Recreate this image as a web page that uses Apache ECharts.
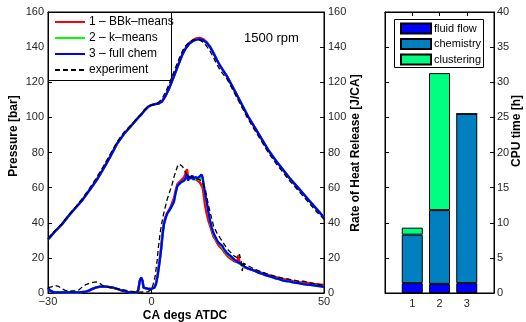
<!DOCTYPE html>
<html>
<head>
<meta charset="utf-8">
<script src="https://cdn.jsdelivr.net/npm/echarts@6/dist/echarts.min.js"></script>
<style>html,body{margin:0;padding:0;background:#fff;}#c{width:526px;height:322px;}</style>
</head>
<body>
<div id="c"></div>
<script>
// ---------------- data ----------------
var seriesNames = ['1 \u2013 BBk\u2013means', '2 \u2013 k\u2013means', '3 \u2013 full chem', 'experiment'];
var xTickValues = [-30, 0, 50];

var pressureCA = [-30,-28,-26,-24,-22,-20,-18,-16,-14,-12,-10,-8,-6,-4,-3,-2,-1,0,1,2,3,4,5,6,7,8,9,10,11,12,13,14,15,16,17,18,19,20,22,24,26,28,30,32,34,36,38,40,42,44,46,48,50];
var pressureBBk  = [30.5,35,39,44,48.5,53,58.5,64,70.5,77.5,85,90.5,95,99.5,101.5,104,106,107,107.5,107.8,109,112,116,121,126,131,136,139.8,142.5,144,145,145.3,144.6,142.8,140.2,136.6,132.5,129,123,115.5,108,100.5,94,87.5,81,75.5,70.5,65.5,61,56.5,52,47.5,43];
var pressureKm   = [30.5,35,39,44,48.5,53,58.5,64,70.5,77.5,85,90.5,95,99.5,101.5,104,106,107,107.5,107.8,109,112,116,121,126,131,136,139.5,142,143.5,144.3,144.5,144,142.5,140,136.5,132.5,129,123,115.5,108,100.5,94,87.5,81,75.5,70.5,65.5,61,56.5,52,47.5,43];
var pressureFull = [30.5,35,39,44,48.5,53,58.5,64,70.5,77.5,85,90.5,95,99.5,101.5,104,106,107,107.5,107.8,109,112,116,121,126,131,136,139.5,142,143.5,144.3,144.5,144,142.5,140,136.5,132.5,129,123,115.5,108,100.5,94,87.5,81,75.5,70.5,65.5,61,56.5,52,47.5,43];
var pressureExp  = [31,35.5,39.5,44.5,49,54,59.5,65.5,72,79,86,91.5,95.5,100,102,104.3,106,107,107.5,108.5,110.5,114,118.5,123.5,128.5,133.5,138,141,143,144,144.3,144,142.8,140.5,137.5,134,130,126.5,121.5,114,106.5,99,92.5,86,79.5,74,69,64,59.5,55,50.5,46,42];

// rate of heat release [CA, J/CA]
var rohrBBk = [[-30,3],[-29.5,1.5],[-28.5,0.5],[-25,0.3],[-21,0.4],[-19,0.8],[-18,1.5],[-17,2.4],[-16,3.1],[-15,3.5],[-14,3.6],[-13,3.5],[-12,3.3],[-11,2.9],[-10,2.3],[-9,1.6],[-8,1.0],[-7,0.6],[-6,0.4],[-5,0.3],[-4.2,0.4],[-3.8,2],[-3.4,7],[-3.0,8.6],[-2.6,7],[-2.3,3],[-2,2.4],[-1,2.3],[0,2.4],[0.8,3],[1.3,5.5],[1.8,11],[2.3,18],[2.8,26],[3.2,34],[3.6,40],[4,43],[4.5,45.5],[5,47],[5.5,49],[6,50],[6.5,54],[7,58.5],[7.5,62],[8,63],[8.5,64],[9,64.5],[9.5,66],[10,69],[10.3,70.5],[10.6,66],[11,67],[11.4,65.5],[11.8,66.5],[12.2,65.5],[12.6,65],[13,64.5],[13.5,64],[14,63],[14.5,62.5],[14.8,60],[15.1,56],[15.5,50],[16,45],[16.5,41],[17,38],[17.5,35],[18,32],[18.5,30.5],[19,28.5],[19.5,27],[20,26],[20.5,25],[21,23.5],[22,21],[23,19.5],[24,18],[24.8,17.5],[25.2,21.5],[25.5,17.5],[26,16],[27,14.5],[28,13.8],[29,13.3],[30,12.8],[31,12],[32,11.5],[33,10.8],[34,10.2],[35,9.8],[36,9],[37,8.6],[38,8],[39,7.6],[40,7.4],[41,6.8],[42,6.6],[43,6.2],[44,6],[45,5.8],[46,5.6],[47,5.2],[48,5],[49,4.8],[50,4.6]];
var rohrKm = [[-30,3],[-29.5,1.5],[-28.5,0.5],[-25,0.3],[-21,0.4],[-19,0.8],[-18,1.5],[-17,2.5],[-16,3.2],[-15,3.6],[-14,3.7],[-13,3.6],[-12,3.3],[-11,3],[-10,2.4],[-9,1.7],[-8,1.1],[-7,0.7],[-6,0.4],[-5,0.3],[-4.2,0.4],[-3.8,2],[-3.4,7],[-3.0,8.7],[-2.6,7],[-2.3,3],[-2,2.4],[-1,2.3],[0,2.4],[0.8,3],[1.3,5],[1.8,10],[2.3,17],[2.8,25],[3.2,33],[3.6,39],[4,42],[4.5,45],[5,46],[5.5,48],[6,49],[6.5,52],[7,57],[7.5,61],[8,62],[8.5,63],[9,63.5],[9.5,64],[10,66],[10.3,67],[10.6,64.5],[11,66],[11.4,65],[11.8,66.5],[12.2,64.5],[12.6,65.5],[13,65],[13.5,65],[14,64.5],[14.5,67],[14.8,65.5],[15.1,61.5],[15.5,56.5],[16,51.5],[16.5,45.5],[17,40.5],[17.5,36.5],[18,33.5],[18.5,32.5],[19,29.5],[19.5,28.5],[20,27.5],[20.5,26.5],[21,24.5],[22,22],[23,20.5],[24,18.8],[25,17.3],[26,16.3],[27,14.8],[28,14],[29,13.3],[30,12.5],[31,11.5],[32,11],[33,10.2],[34,9.6],[35,9],[36,8.3],[37,7.9],[38,7.2],[39,6.8],[40,6.6],[41,6],[42,5.8],[43,5.5],[44,5.1],[45,4.8],[46,4.6],[47,4.3],[48,4],[49,3.8],[50,3.5]];
var rohrFull = [[-30,3],[-29.5,1.5],[-28.5,0.5],[-27,0.3],[-25,0.3],[-23,0.3],[-21,0.4],[-19,0.8],[-18,1.5],[-17,2.5],[-16,3.2],[-15,3.6],[-14,3.7],[-13,3.6],[-12,3.3],[-11,3],[-10,2.4],[-9,1.7],[-8,1.1],[-7,0.7],[-6,0.4],[-5,0.3],[-4.2,0.4],[-3.8,2],[-3.4,7],[-3.0,8.8],[-2.6,7],[-2.3,3],[-2,2.4],[-1,2.3],[0,2.4],[0.8,3],[1.3,5],[1.8,10],[2.3,17],[2.8,25],[3.2,33],[3.6,39],[4.0,42],[4.5,45],[5,46],[5.5,48],[6,49],[6.5,52],[7,57],[7.5,61],[8,62],[8.5,63],[9,63.5],[9.5,64],[10,66],[10.3,67.5],[10.6,64],[11,66.5],[11.4,65],[11.8,67],[12.2,64.5],[12.6,66],[13,65],[13.5,65.5],[14,64.5],[14.5,67.5],[14.8,66],[15.1,62],[15.5,57],[16,52],[16.5,46],[17,41],[17.5,37],[18,34],[18.5,33],[19,30],[19.5,28.5],[20,28],[20.5,27],[21,25],[22,22.5],[23,21],[24,19],[25,17.5],[26,16.5],[26.5,17],[27,15],[28,14],[29,13.3],[30,12.5],[31,11.5],[32,11],[33,10.2],[34,9.6],[35,9],[36,8.3],[37,7.9],[38,7.2],[39,6.8],[40,6.6],[41,6],[42,5.8],[43,5.5],[44,5.1],[45,4.8],[46,4.6],[47,4.3],[48,4],[49,3.8],[50,3.5]];
var rohrExp = [[-30,3],[-29,3.5],[-28,4.3],[-27.5,4.5],[-27,3.8],[-26,2.5],[-25,1.5],[-24,1.2],[-22,1.2],[-21,1.8],[-20,3.5],[-19,4.8],[-18,5.5],[-17,6],[-16,6.3],[-15,5.5],[-14,4],[-13,3.5],[-12,3],[-10,2.5],[-8,1.8],[-6,1],[-4,0.5],[-2,0.6],[-1,0.8],[0,2],[0.5,5],[1,9],[1.5,16],[2,26],[2.5,34],[3,40],[3.5,45],[4,49],[4.5,53],[5,56],[5.5,59],[6,62],[6.5,66],[7,69],[7.5,72],[8,73.5],[8.5,73.8],[9,72],[9.5,70],[10,68],[10.5,66],[11,67],[12,66],[13,65],[14,64.5],[15,62],[15.5,60],[16,55],[16.5,50],[17,46],[17.5,42],[18,38],[19,34],[20,31],[21,28],[22,25],[23,23],[24,21],[25,20],[25.5,22],[26,18],[26.3,12.5],[26.6,17],[27,17],[28,15.5],[29,14.5],[30,13.5],[32,12],[34,10.5],[36,9.5],[38,8.5],[40,7.8],[42,7],[43,6.5],[44,6.8],[46,5.8],[48,5],[50,4.3]];

// CPU time [h] bar chart
var runLabels = ['1', '2', '3'];
var runTickValues = [1, 2, 3];
var cpuFluid = [1.4, 1.3, 1.4];
var cpuChem = [6.9, 10.5, 24.1];
var cpuClust = [1.0, 19.5, 0];
var cpuNames = ['fluid flow', 'chemistry', 'clustering'];

// ---------------- chart ----------------
var FONT = 'Liberation Sans, Arial, Helvetica, sans-serif';
var TXT = '#262626';
var chart = echarts.init(document.getElementById('c'), null, {renderer: 'canvas'});

function pairs(xs, ys) { return xs.map(function (x, i) { return [x, ys[i]]; }); }

var axLine = {show: true, onZero: false, lineStyle: {color: '#000', width: 1}};
var tickIn = {show: true, inside: true, length: 4, lineStyle: {color: '#000', width: 1}};
var lab = {color: TXT, fontFamily: FONT, fontSize: 11};

var lineColors = ['#ff0000', '#00ff00', '#0000ff', '#000000'];
var pressureSets = [pressureBBk, pressureKm, pressureFull, pressureExp];
var rohrSets = [rohrBBk, rohrKm, rohrFull, rohrExp];

var series = [];
for (var i = 0; i < 4; i++) {
  var isExp = i === 3;
  var ls = {color: lineColors[i], width: isExp ? 1.3 : 2.3, type: isExp ? [5, 3] : 'solid'};
  series.push({
    name: seriesNames[i], type: 'line', xAxisIndex: 0, yAxisIndex: 0,
    data: pairs(pressureCA, pressureSets[i]), showSymbol: false, symbol: 'none',
    lineStyle: ls, itemStyle: {color: lineColors[i]}, z: 2 + i, silent: true
  });
  series.push({
    name: seriesNames[i], type: 'line', xAxisIndex: 0, yAxisIndex: 1,
    data: rohrSets[i], showSymbol: false, symbol: 'none',
    lineStyle: ls, itemStyle: {color: lineColors[i]}, z: 2 + i, silent: true
  });
}
var barColors = ['#0000ff', '#0080c0', '#00ff80'];
var barSets = [cpuFluid, cpuChem, cpuClust];
for (var j = 0; j < 3; j++) {
  series.push({
    name: cpuNames[j], type: 'bar', xAxisIndex: 4, yAxisIndex: 4, stack: 'cpu',
    barWidth: 21, data: barSets[j],
    itemStyle: {color: barColors[j], borderColor: '#000', borderWidth: 1}, silent: true
  });
}

var option = {
  animation: false,
  backgroundColor: '#fff',
  grid: [
    {left: 48, top: 12, width: 276, height: 281, show: true, borderColor: '#000', borderWidth: 1, backgroundColor: 'transparent'},
    {left: 385, top: 12, width: 109, height: 281, show: true, borderColor: '#000', borderWidth: 1, backgroundColor: 'transparent'},
    {left: 398.625, top: 12, width: 81.75, height: 281, show: false}
  ],
  xAxis: [
    {gridIndex: 0, type: 'value', min: -30, max: 50, interval: 10, position: 'bottom',
     axisLine: axLine, axisTick: Object.assign({}, tickIn, {customValues: xTickValues}),
     axisLabel: Object.assign({}, lab, {customValues: xTickValues, margin: 3,
       formatter: function (v) { return v < 0 ? '\u2212' + Math.abs(v) : String(v); }}),
     splitLine: {show: false}},
    {gridIndex: 0, type: 'value', min: -30, max: 50, interval: 10, position: 'top',
     axisLine: axLine, axisTick: Object.assign({}, tickIn, {customValues: xTickValues}),
     axisLabel: {show: false}, splitLine: {show: false}},
    {gridIndex: 1, type: 'value', min: 0, max: 4, interval: 1, position: 'bottom',
     axisLine: axLine, axisTick: Object.assign({}, tickIn, {customValues: runTickValues}),
     axisLabel: Object.assign({}, lab, {customValues: runTickValues, margin: 5}),
     splitLine: {show: false}},
    {gridIndex: 1, type: 'value', min: 0, max: 4, interval: 1, position: 'top',
     axisLine: axLine, axisTick: Object.assign({}, tickIn, {customValues: runTickValues}),
     axisLabel: {show: false}, splitLine: {show: false}},
    {gridIndex: 2, type: 'category', data: runLabels, show: false, boundaryGap: true}
  ],
  yAxis: [
    {gridIndex: 0, type: 'value', min: 0, max: 160, interval: 20, position: 'left',
     axisLine: axLine, axisTick: tickIn, axisLabel: Object.assign({}, lab, {margin: 4}), splitLine: {show: false}},
    {gridIndex: 0, type: 'value', min: 0, max: 160, interval: 20, position: 'right',
     axisLine: axLine, axisTick: tickIn, axisLabel: Object.assign({}, lab, {margin: 4}), splitLine: {show: false}},
    {gridIndex: 1, type: 'value', min: 0, max: 40, interval: 5, position: 'right',
     axisLine: axLine, axisTick: tickIn, axisLabel: Object.assign({}, lab, {margin: 3}), splitLine: {show: false}},
    {gridIndex: 1, type: 'value', min: 0, max: 40, interval: 5, position: 'left',
     axisLine: axLine, axisTick: tickIn, axisLabel: {show: false}, splitLine: {show: false}},
    {gridIndex: 2, type: 'value', min: 0, max: 40, interval: 5, show: false}
  ],
  legend: [
    {data: seriesNames, orient: 'vertical', left: 54, top: 15, itemWidth: 30, itemHeight: 14, itemGap: 2,
     selectedMode: false, padding: 0, z: 5,
     itemStyle: {color: 'rgba(0,0,0,0)', borderWidth: 0, opacity: 0},
     textStyle: {color: '#000', fontFamily: FONT, fontSize: 12, lineHeight: 14, padding: [0, 0, 0, -1]}},
    {data: cpuNames, orient: 'vertical', left: 400, top: 22, itemWidth: 30, itemHeight: 10, itemGap: 2.5,
     icon: 'rect', selectedMode: false, padding: 0, z: 5,
     textStyle: {color: '#000', fontFamily: FONT, fontSize: 11, lineHeight: 13, padding: [0, 0, 0, -2]}}
  ],
  graphic: [
    {type: 'rect', z: 3, shape: {x: 48.5, y: 12.5, width: 123, height: 68}, style: {fill: '#fff', stroke: '#000', lineWidth: 1}},
    {type: 'rect', z: 3, shape: {x: 394.5, y: 19.5, width: 89, height: 48}, style: {fill: '#fff', stroke: '#000', lineWidth: 1}},
    {type: 'text', z: 6, x: 244, y: 38, style: {text: '1500 rpm', fill: '#000', font: '13px ' + FONT, verticalAlign: 'middle'}},
    {type: 'text', z: 6, x: 185, y: 316, style: {text: 'CA degs ATDC', fill: '#000', font: 'bold 12px ' + FONT, align: 'center', verticalAlign: 'middle'}},
    {type: 'text', z: 6, x: 14, y: 136, rotation: Math.PI / 2, style: {text: 'Pressure [bar]', fill: '#000', font: 'bold 12px ' + FONT, align: 'center', verticalAlign: 'middle'}},
    {type: 'text', z: 6, x: 356, y: 153, rotation: Math.PI / 2, style: {text: 'Rate of Heat Release [J/CA]', fill: '#000', font: 'bold 12px ' + FONT, align: 'center', verticalAlign: 'middle'}},
    {type: 'text', z: 6, x: 517, y: 131, rotation: Math.PI / 2, style: {text: 'CPU time [h]', fill: '#000', font: 'bold 12px ' + FONT, align: 'center', verticalAlign: 'middle'}}
  ],
  series: series
};
chart.setOption(option);
</script>
</body>
</html>
